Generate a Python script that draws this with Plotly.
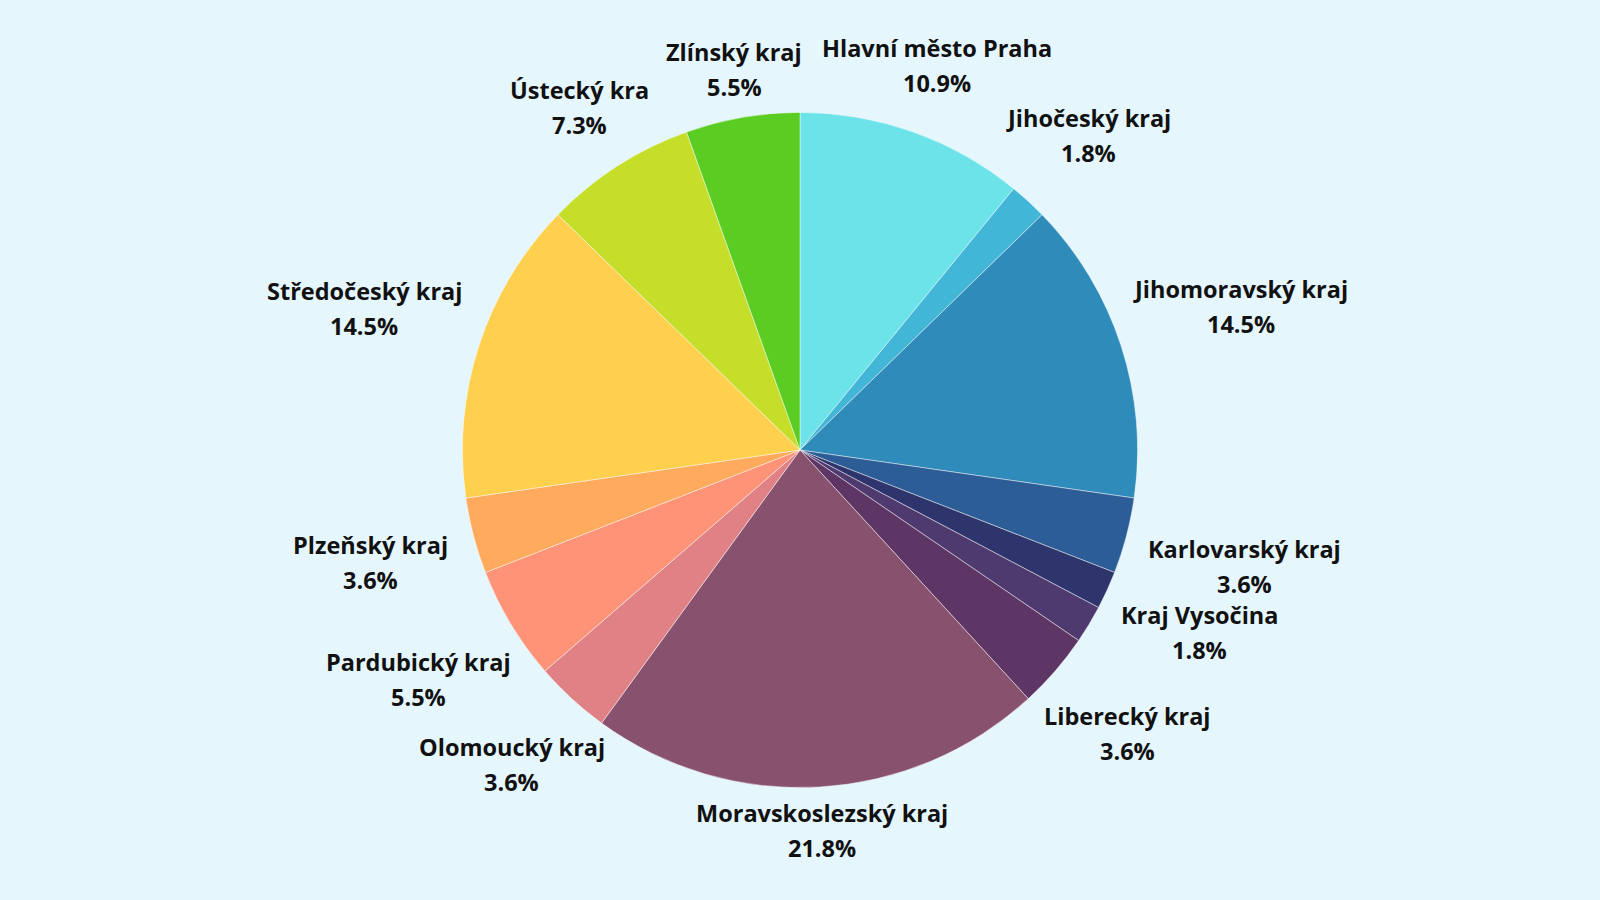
import math
import plotly.graph_objects as go

regions = ["Hlavní město Praha", "Jihočeský kraj", "Jihomoravský kraj", "Karlovarský kraj",
           "Kraj Vysočina", "Královéhradecký kraj", "Liberecký kraj", "Moravskoslezský kraj",
           "Olomoucký kraj", "Pardubický kraj", "Plzeňský kraj", "Středočeský kraj",
           "Ústecký kra", "Zlínský kraj"]
counts = [6, 1, 8, 2, 1, 1, 2, 12, 2, 3, 2, 8, 4, 3]
show_label = [True, True, True, True, True, False, True, True, True, True, True, True, True, True]
colors = ["#6BE3E8", "#42B6D6", "#2E8BBA", "#2D5D96", "#2E346C", "#4F3A70", "#5E3665",
          "#88526F", "#E08285", "#FF9378", "#FFAA5C", "#FFD04E", "#C5DE2A", "#5ACC22"]

W, H = 1600, 900
dom_x = [0.289, 0.711]
dom_y = [0.1244, 0.8756]
FONT = "Open Sans"
FSIZE = 23.5
LINE_GAP = 35          # baseline-to-baseline distance of the two label lines (px)
CHAR_W = 12.9          # approx. rendered width per character (px), for label spacing
BG = "#E5F6FD"

fig = go.Figure(go.Pie(
    labels=regions,
    values=counts,
    textinfo="none",
    sort=False,
    direction="clockwise",
    rotation=0,
    marker=dict(colors=colors, line=dict(color="rgba(255,255,255,0.45)", width=1)),
    domain=dict(x=dom_x, y=dom_y),
    showlegend=False,
    hoverinfo="label+percent",
))

# pie geometry in pixels (derived from the domain)
cx = (dom_x[0] + dom_x[1]) / 2 * W
cy = (1 - (dom_y[0] + dom_y[1]) / 2) * H
r = min((dom_x[1] - dom_x[0]) * W, (dom_y[1] - dom_y[0]) * H) / 2

total = sum(counts)
annotations = []
cum = 0
for name, c, show in zip(regions, counts, show_label):
    mid = (cum + c / 2) / total * 2 * math.pi
    cum += c
    if not show:
        continue
    pct = f"{c / total * 100:.1f}%"
    ux, uy = math.sin(mid), math.cos(mid)
    hw = max(len(name), len(pct)) * CHAR_W / 2
    d = r * 1.11 + 0.85 * hw * abs(ux)
    px = cx + d * ux
    py = cy - d * uy
    for txt, shift in ((name, LINE_GAP / 2), (pct, -LINE_GAP / 2)):
        annotations.append(dict(
            x=px / W, y=1 - py / H, xref="paper", yref="paper",
            text=txt, showarrow=False, xanchor="center", yanchor="middle",
            yshift=shift,
            font=dict(family=FONT, size=FSIZE, color="#111111", weight="bold"),
        ))

fig.update_layout(
    width=W, height=H,
    paper_bgcolor=BG,
    plot_bgcolor=BG,
    margin=dict(l=0, r=0, t=0, b=0),
    showlegend=False,
    annotations=annotations,
)

fig.write_html(
    "out.html",
    config={"displayModeBar": False},
    post_script=f"document.body.style.margin='0';document.body.style.background='{BG}';",
)
